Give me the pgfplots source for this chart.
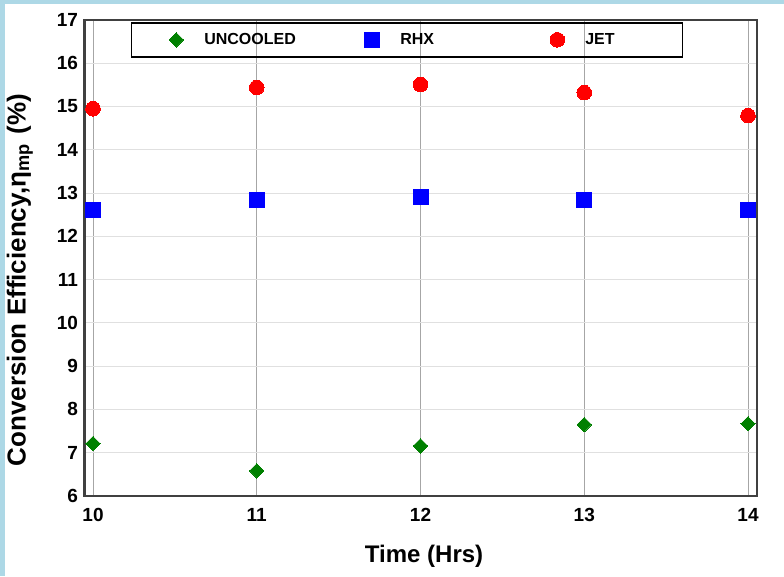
\documentclass[border=0pt]{standalone}
\usepackage{fontspec}
\setmainfont{Liberation Sans}
\usepackage{pgfplots}
\pgfplotsset{compat=1.18}
\definecolor{bgblue}{RGB}{173,216,230}
\definecolor{mgreen}{RGB}{0,128,0}
\begin{document}
\begin{tikzpicture}[x=1pt,y=1pt]
\fill[bgblue] (0,0) rectangle (784,576);
\fill[white] (5,0) rectangle (784,572);
\path[use as bounding box] (0,0) rectangle (784,576);
\begin{axis}[
  at={(84.5pt,80pt)}, anchor=south west,
  scale only axis, width=672.5pt, height=476pt,
  xmin=9.948, xmax=14.055, ymin=6, ymax=17,
  xtick={10,11,12,13,14}, ytick={6,7,...,17},
  major tick length=0pt,
  xmajorgrids, ymajorgrids,
  x grid style={black!35, line width=0.6pt},
  y grid style={black!12, line width=1pt},
  axis line style={black!75, line width=2.2pt},
  tick label style={font=\bfseries\fontsize{19}{20}\selectfont},
  /pgf/number format/assume math mode=true,
  xticklabel style={yshift=-9pt},
  yticklabel style={xshift=-3pt},
  xlabel={Time (Hrs)},
  every axis x label/.style={at={(axis description cs:0.505,0)}, anchor=base, yshift=-66pt, font=\bfseries\fontsize{24}{26}\selectfont},
  ylabel={Conversion Efficiency,η\textsubscript{mp}\hspace{10pt}(\%)},
  every axis y label/.style={at={(axis description cs:-0.0877,0.454)}, rotate=90, anchor=base, font=\bfseries\fontsize{26}{28}\selectfont},
  legend columns=3,
  legend image code/.code={\path[draw=none,fill=none] (0pt,-9pt) rectangle (30pt,9pt); \draw[#1,only marks] plot coordinates {(15pt,0pt)};},
  legend style={at={(0.0684,0.9958)}, anchor=north west, draw=black, fill=none, line width=1.6pt,
    inner xsep=30pt, inner ysep=8pt,
    nodes={inner sep=0pt},
    /tikz/every odd column/.append style={column sep=13pt},
    font=\bfseries\fontsize{16}{18}\selectfont},
]
\addplot[only marks, mark=square*, mgreen, mark size=5.1pt, mark options={rotate=45, line width=0pt}] coordinates {
  (10,7.21) (11,6.58) (12,7.16) (13,7.65) (14,7.67)};
\addlegendentry{\makebox[153pt][l]{UNCOOLED}}
\addplot[only marks, mark=square*, blue, mark size=7.5pt, mark options={line width=0pt}] coordinates {
  (10,12.60) (11,12.85) (12,12.92) (13,12.83) (14,12.62)};
\addlegendentry{\makebox[142pt][l]{RHX}}
\addplot[only marks, mark=*, red, mark size=7.3pt, mark options={line width=0pt}] coordinates {
  (10,14.95) (11,15.44) (12,15.51) (13,15.32) (14,14.79)};
\addlegendentry{\makebox[67pt][l]{JET}}
\end{axis}
\end{tikzpicture}
\end{document}
